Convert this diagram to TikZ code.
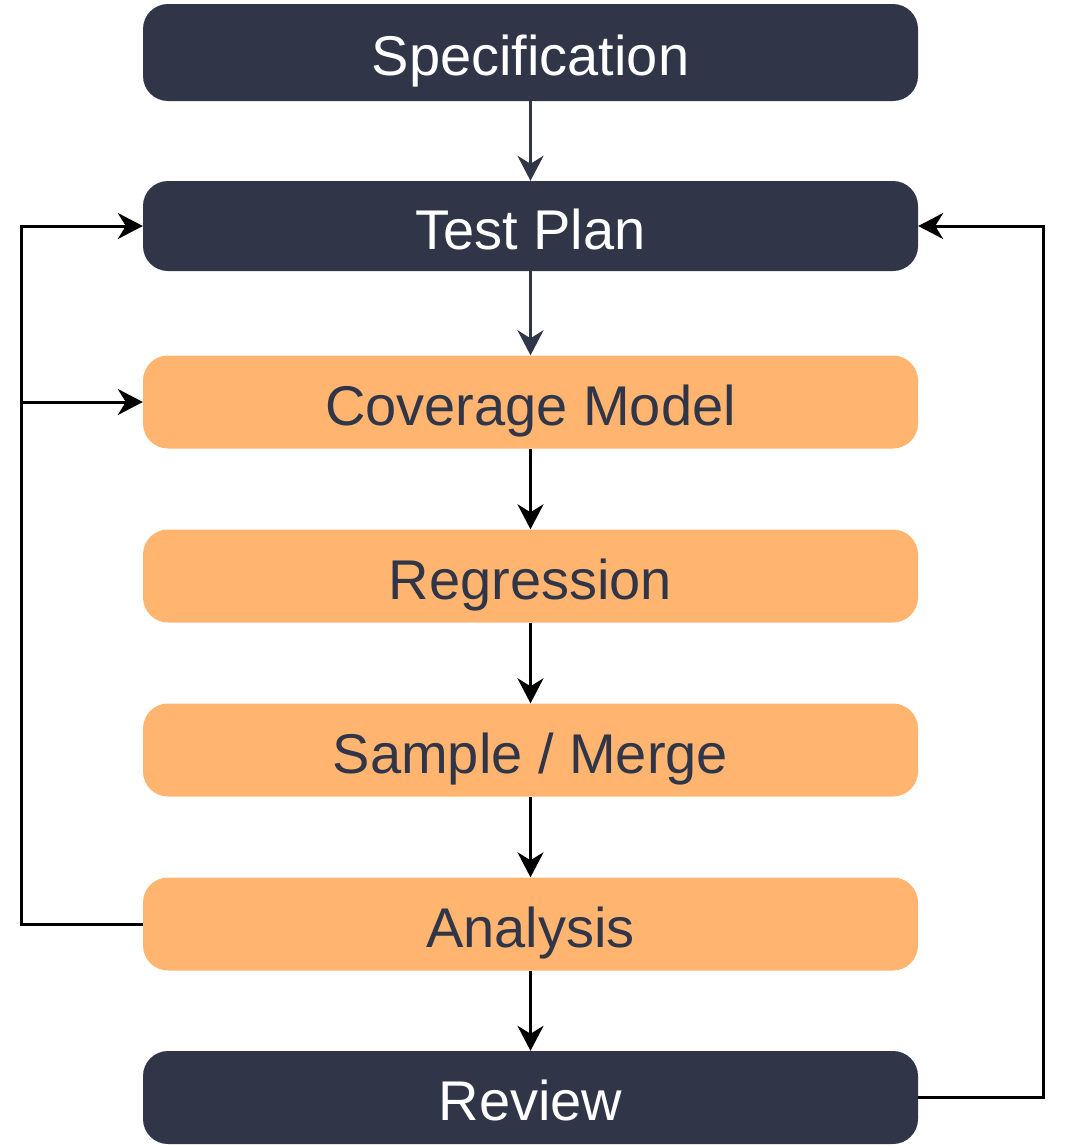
\documentclass[tikz,border=0pt]{standalone}
\usepackage{fontspec}
\setmainfont{Liberation Sans}
\usetikzlibrary{arrows.meta}
\definecolor{navy}{HTML}{303548}
\definecolor{peach}{HTML}{FFB570}

\begin{document}
\begin{tikzpicture}[x=1pt, y=-1pt,
    box/.style={rounded corners=25pt, minimum width=775pt, minimum height=93pt,
        inner sep=0pt, text height=46pt, text depth=0pt, font=\fontsize{56}{60}\selectfont},
    darkbox/.style={box, fill=navy, text=white},
    lightbox/.style={box, fill=peach, text=navy},
    flow/.style={line width=3pt, -{Stealth[length=25pt, width=26pt, inset=8pt]}}]
    \useasboundingbox (0,0) rectangle (1068,1146);
    % Boxes
    \node[darkbox, minimum height=97pt] (spec) at (530.5,52.5) {Specification};
    \node[darkbox, minimum height=90pt] (plan) at (530.5,226) {Test Plan};
    \node[lightbox] (cov) at (530.5,402) {Coverage Model};
    \node[lightbox] (reg) at (530.5,576) {Regression};
    \node[lightbox] (merge) at (530.5,750) {Sample / Merge};
    \node[lightbox] (ana) at (530.5,924) {Analysis};
    \node[darkbox] (rev) at (530.5,1097.5) {Review};
    % Main flow
    \draw[flow, navy] (spec) -- (plan);
    \draw[flow, navy] (plan) -- (cov);
    \draw[flow] (cov) -- (reg);
    \draw[flow] (reg) -- (merge);
    \draw[flow] (merge) -- (ana);
    \draw[flow] (ana) -- (rev);
    % Feedback loops
    \draw[flow] (ana.west) -- ++(-121,0) coordinate (bend) |- (plan.west);
    \draw[flow] (bend |- cov.west) -- (cov.west);
    \draw[flow] (rev.east) -- ++(125,0) |- (plan.east);
\end{tikzpicture}
\end{document}
